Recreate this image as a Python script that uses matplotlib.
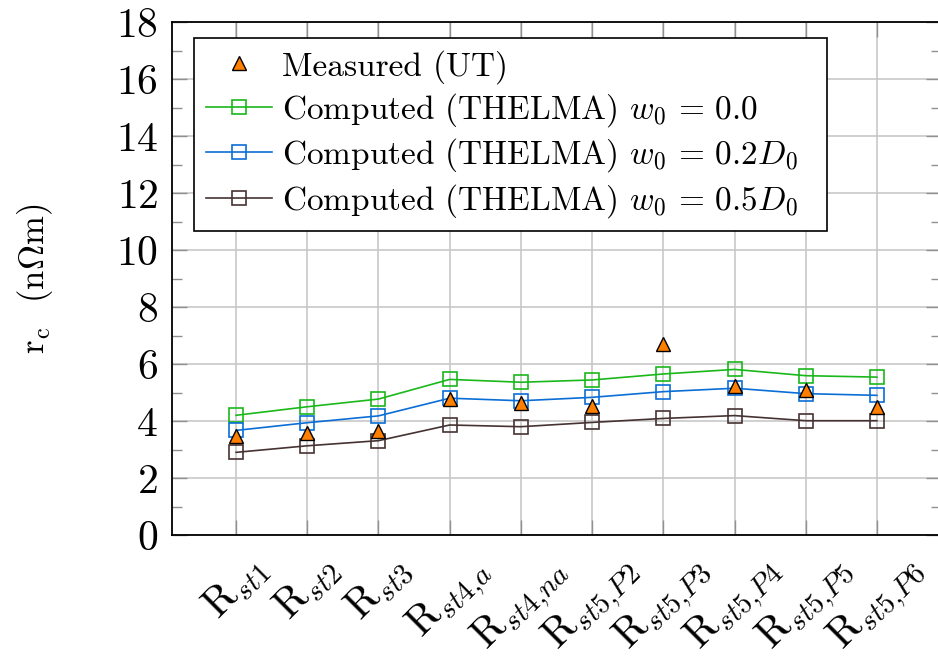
import matplotlib
matplotlib.use("Agg")
import matplotlib.pyplot as plt
from matplotlib.ticker import MultipleLocator
from matplotlib.mathtext import MathTextParser

plt.rcParams['font.family'] = ['cmr10', 'DejaVu Serif']
plt.rcParams['mathtext.fontset'] = 'cm'
plt.rcParams['axes.formatter.use_mathtext'] = True

categories = [r'$\mathrm{R}_{st1}$', r'$\mathrm{R}_{st2}$', r'$\mathrm{R}_{st3}$',
              r'$\mathrm{R}_{st4{,}a}$', r'$\mathrm{R}_{st4{,}na}$', r'$\mathrm{R}_{st5{,}P2}$',
              r'$\mathrm{R}_{st5{,}P3}$', r'$\mathrm{R}_{st5{,}P4}$', r'$\mathrm{R}_{st5{,}P5}$',
              r'$\mathrm{R}_{st5{,}P6}$']
measured = [3.47, 3.59, 3.65, 4.77, 4.64, 4.54, 6.71, 5.22, 5.10, 4.48]
computed_w0_00 = [4.20, 4.50, 4.77, 5.46, 5.36, 5.44, 5.65, 5.81, 5.59, 5.54]
computed_w0_02 = [3.67, 3.94, 4.18, 4.80, 4.71, 4.83, 5.03, 5.15, 4.96, 4.90]
computed_w0_05 = [2.90, 3.13, 3.31, 3.86, 3.80, 3.95, 4.09, 4.19, 4.01, 4.01]

measured_label = 'Measured (UT)'
try:
    MathTextParser('agg').parse(r'$\vphantom{D_0}$', dpi=100)
    measured_label = r'Measured (UT)$\vphantom{D_0}$'
except Exception:
    pass

x = list(range(len(categories)))

fig = plt.figure(figsize=(9.38, 6.62), dpi=100)
ax = fig.add_axes([172/938, 127/662, 769/938, 513/662])

ax.plot(x, measured, linestyle='none', marker='^', markersize=10,
        markerfacecolor='#ff7f00', markeredgecolor='black', markeredgewidth=1.0,
        label=measured_label, zorder=5)
ax.plot(x, computed_w0_00, color='#1ab81a', lw=1.2, marker='s', markersize=10,
        markerfacecolor='none', markeredgewidth=1.2,
        label=r'Computed (THELMA) $w_0\,=\,0.0$', zorder=4)
ax.plot(x, computed_w0_02, color='#0a6ed6', lw=1.2, marker='s', markersize=10,
        markerfacecolor='none', markeredgewidth=1.2,
        label=r'Computed (THELMA) $w_0\,=\,0.2D_0$', zorder=4)
ax.plot(x, computed_w0_05, color='#463232', lw=1.2, marker='s', markersize=10,
        markerfacecolor='none', markeredgewidth=1.2,
        label=r'Computed (THELMA) $w_0\,=\,0.5D_0$', zorder=4)

ax.set_xlim(-0.9, 9.9)
ax.set_ylim(0, 18)
ax.yaxis.set_major_locator(MultipleLocator(2))
ax.yaxis.set_minor_locator(MultipleLocator(1))
ax.set_xticks(x)
ax.set_xticklabels(categories, rotation=45, ha='center', va='top', fontsize=30)
ax.tick_params(axis='y', labelsize=30)
ax.tick_params(which='both', direction='in', top=True, right=True, color='#909090')
ax.tick_params(which='major', length=11, width=1.0)
ax.tick_params(which='minor', length=7, width=1.0)
ax.tick_params(axis='x', pad=10)
ax.tick_params(axis='y', pad=10)

ax.grid(True, which='major', color='#c8c8c8', lw=1.2)
ax.set_axisbelow(True)
for s in ax.spines.values():
    s.set_linewidth(1.3)
    s.set_color('black')

ax.set_ylabel(r'$\mathrm{r_c}$  (n$\Omega$m)', fontsize=25, labelpad=44)

leg = ax.legend(loc='upper left',
                bbox_to_anchor=(22/769, (535-236)/513, 633/769, 198/513),
                mode='expand', borderaxespad=0,
                fontsize=24, fancybox=False, framealpha=1, edgecolor='black',
                handlelength=2.0, handletextpad=0.3, labelspacing=0.225, borderpad=0.35)
leg.get_frame().set_linewidth(1.2)

fig.savefig('out.png', dpi=100)
